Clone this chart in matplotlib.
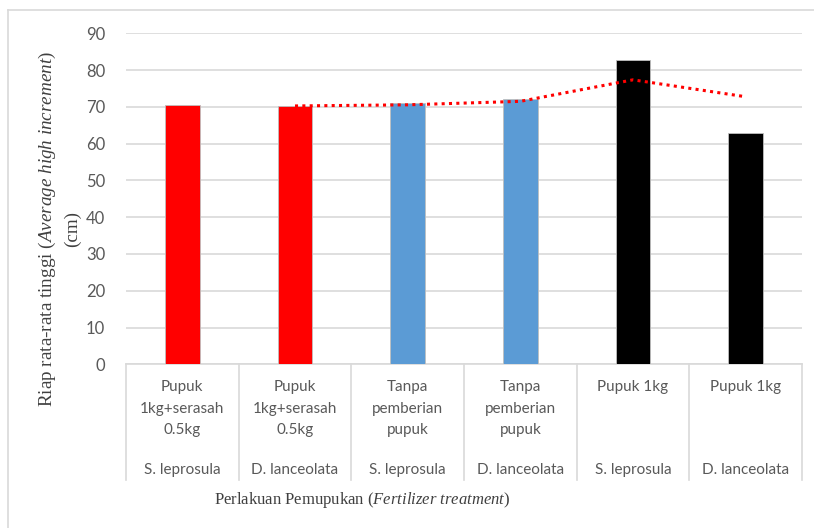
import matplotlib
matplotlib.use("Agg")
import matplotlib.pyplot as plt
from matplotlib import font_manager
import pandas as pd

# ---- data ----
treatments = ["Pupuk\n1kg+serasah\n0.5kg", "Pupuk\n1kg+serasah\n0.5kg",
              "Tanpa\npemberian\npupuk", "Tanpa\npemberian\npupuk",
              "Pupuk 1kg", "Pupuk 1kg"]
species = ["S. leprosula", "D. lanceolata", "S. leprosula",
           "D. lanceolata", "S. leprosula", "D. lanceolata"]
increment = [70.4, 70.1, 71.0, 72.0, 82.7, 62.8]
bar_colors = ["#FF0000", "#FF0000", "#5B9BD5", "#5B9BD5", "#000000", "#000000"]
y_ticks = [0, 10, 20, 30, 40, 50, 60, 70, 80, 90]

# ---- fonts ----
available = {f.name for f in font_manager.fontManager.ttflist}
sans = [f for f in ["Lato", "Open Sans", "DejaVu Sans"] if f in available]
serif = [f for f in ["Liberation Serif", "DejaVu Serif"] if f in available]
plt.rcParams["font.family"] = sans
plt.rcParams["mathtext.fontset"] = "custom"
plt.rcParams["mathtext.rm"] = serif[0]
plt.rcParams["mathtext.it"] = serif[0] + ":italic"

W, H = 814, 528
fig = plt.figure(figsize=(W / 100, H / 100), dpi=100)
fig.patch.set_facecolor("white")

# outer chart border (left and top edges)
fig.add_artist(plt.Line2D([8 / W, 8 / W], [0, 1 - 10 / H], transform=fig.transFigure,
                          color="#D9D9D9", lw=1.2))
fig.add_artist(plt.Line2D([8 / W, 1], [1 - 10 / H, 1 - 10 / H], transform=fig.transFigure,
                          color="#D9D9D9", lw=1.2))

x0, x1, ytop, ybot = 126, 802, 33.3, 364.3
ax = fig.add_axes([x0 / W, 1 - ybot / H, (x1 - x0) / W, (ybot - ytop) / H])
ax.set_xlim(-0.5, len(increment) - 0.5)
ax.set_ylim(0, 90)

xs = list(range(len(increment)))
ax.bar(xs, increment, width=0.31, color=bar_colors, edgecolor="#BFBFBF",
       linewidth=0.6, zorder=3)

# two-period moving average trendline
ma = pd.Series(increment).rolling(2).mean()
ax.plot(xs[1:], ma[1:], color="#FF0000", linestyle=(0, (1, 1.4)), lw=2.2,
        zorder=4)

ax.set_yticks(y_ticks)
ax.set_yticklabels([str(v) for v in y_ticks])
ax.tick_params(axis="y", length=0, pad=15, labelsize=12, labelcolor="#595959")
ax.set_xticks([])
ax.grid(axis="y", color="#D9D9D9", lw=1.2, zorder=0)
for s in ["top", "right", "left"]:
    ax.spines[s].set_visible(False)
ax.spines["bottom"].set_color("#D9D9D9")
ax.spines["bottom"].set_linewidth(1.2)

# multi-level category axis: separators and two label rows
for i in range(len(increment) + 1):
    xf = (x0 + i * (x1 - x0) / len(increment)) / W
    fig.add_artist(plt.Line2D([xf, xf], [1 - ybot / H, 1 - 480 / H],
                              transform=fig.transFigure, color="#D9D9D9", lw=1.2))
for i, (t, s) in enumerate(zip(treatments, species)):
    ax.annotate(t, xy=(i, 0), xycoords=("data", "axes fraction"),
                xytext=(0, -16), textcoords="offset pixels", ha="center", va="top",
                fontsize=11, color="#595959", linespacing=1.68)
    ax.annotate(s, xy=(i, 0), xycoords=("data", "axes fraction"),
                xytext=(0, -106), textcoords="offset pixels", ha="center", va="center",
                fontsize=11, color="#595959")

fig.text(362 / W, 1 - 500 / H,
         r"Perlakuan Pemupukan ($\mathit{Fertilizer\ treatment}$)",
         ha="center", va="center", fontsize=12, color="#404040", family=serif)
fig.text(47 / W, 1 - 229 / H,
         r"Riap rata-rata tinggi ($\mathit{Average\ high\ increment}$)",
         ha="center", va="center", rotation=90, fontsize=13.8, color="#404040",
         family=serif)
fig.text(72 / W, 1 - 229 / H, "(cm)", ha="center", va="center", rotation=90,
         fontsize=13.8, color="#404040", family=serif)

fig.savefig("out.png", dpi=100, facecolor="white")
